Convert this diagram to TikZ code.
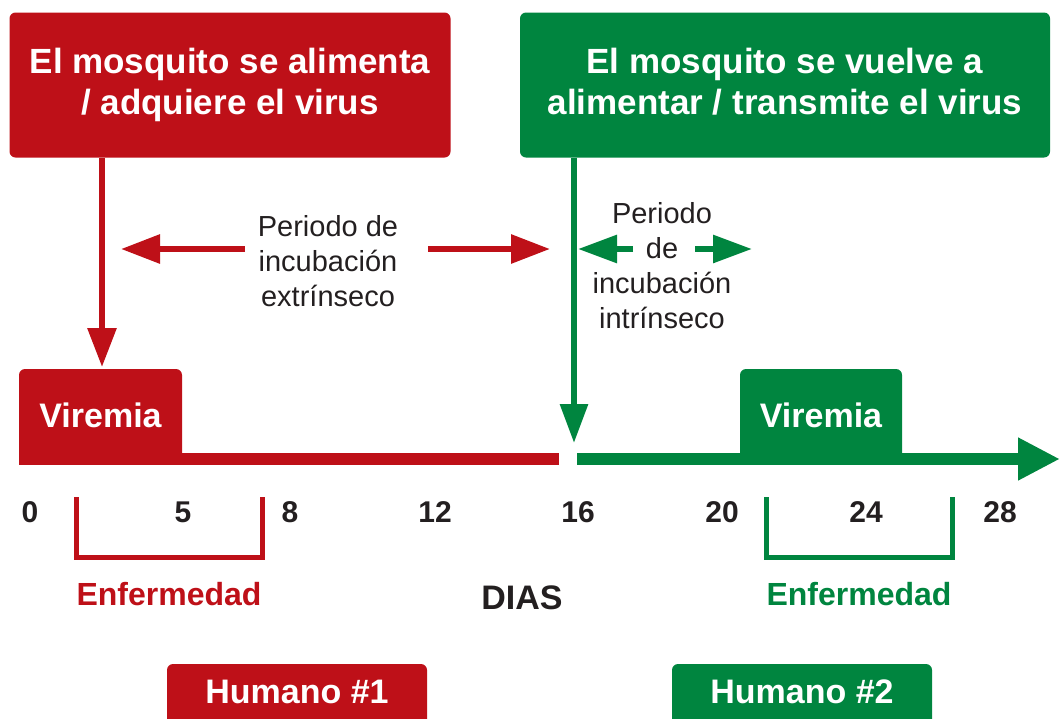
\documentclass[tikz,border=0pt]{standalone}
\usepackage{fontspec}
\setmainfont{Liberation Sans}
\usetikzlibrary{arrows.meta}
\definecolor{myred}{HTML}{BE1018}
\definecolor{mygreen}{HTML}{00853F}
\definecolor{txt}{HTML}{231F20}
\begin{document}
\begin{tikzpicture}[x=1pt,y=-1pt,
  box/.style={rounded corners=6pt, inner sep=0pt, text=white, align=center},
  bigfont/.style={font=\bfseries\fontsize{35}{41}\selectfont},
  midfont/.style={font=\bfseries\fontsize{34}{40}\selectfont},
  numfont/.style={font=\bfseries\fontsize{30}{36}\selectfont, text=txt},
  enffont/.style={font=\bfseries\fontsize{32}{38}\selectfont},
  plain/.style={font=\fontsize{29}{35}\selectfont, text=txt, align=center, inner sep=0pt},
  conn/.style={line width=6pt, -{Triangle[length=39pt,width=28pt]}},
  brack/.style={line width=5pt}
]
\clip (0,0) rectangle (1060,718);

% top boxes
\node[box, bigfont, fill=myred, minimum width=441pt, minimum height=145pt] (mq1) at (230,85)
  {El mosquito se alimenta\\/ adquiere el virus};
\node[box, bigfont, fill=mygreen, minimum width=530pt, minimum height=145pt] (mq2) at (785,85)
  {El mosquito se vuelve a\\alimentar / transmite el virus\vphantom{q}};

% viremia boxes
\node[box, midfont, fill=myred, minimum width=163pt, minimum height=92pt] (vir1) at (100.5,415) {Viremia};
\node[box, midfont, fill=mygreen, minimum width=162pt, minimum height=92pt] (vir2) at (821,415) {Viremia};

% timeline
\coordinate (r0) at (19,459);
\coordinate (r1) at (559,459);
\coordinate (g0) at (577,459);
\coordinate (g1) at (1060,459);
\draw[myred, line width=12pt] (r0) -- (r1);
\draw[mygreen, line width=12pt, -{Triangle[length=42pt,width=40pt]}] (g0) -- (g1);

% vertical arrows
\coordinate (t1) at (102,367);
\coordinate (t2) at (574,443);
\draw[conn, myred] (t1 |- mq1.south) -- (t1);
\draw[conn, mygreen, -{Triangle[length=39pt,width=27pt]}] (t2 |- mq2.south) -- (t2);

% incubation labels
\node[plain] (ext) at (328,261) {Periodo de\\incubación\\extrínseco};
\node[plain] (int) at (662,265.5) {Periodo\\de\\incubación\\intrínseco};

\coordinate (el0) at (245,249);
\coordinate (el1) at (121,249);
\coordinate (er0) at (428,249);
\coordinate (er1) at (550,249);
\draw[conn, myred] (el0) -- (el1);
\draw[conn, myred] (er0) -- (er1);

\coordinate (il0) at (633,249);
\coordinate (il1) at (578,249);
\coordinate (ir0) at (695,249);
\coordinate (ir1) at (752,249);
\draw[conn, mygreen, -{Triangle[length=39pt,width=27pt]}] (il0) -- (il1);
\draw[conn, mygreen, -{Triangle[length=39pt,width=27pt]}] (ir0) -- (ir1);

% tick labels
\node[numfont] (n0) at (30,512) {0};
\node[numfont] (n5) at (183,512) {5};
\node[numfont] (n8) at (290,512) {8};
\node[numfont] (n12) at (435,512) {12};
\node[numfont] (n16) at (578,512) {16};
\node[numfont] (n20) at (722,512) {20};
\node[numfont] (n24) at (866,512) {24};
\node[numfont] (n28) at (1000,512) {28};

% brackets
\draw[brack, myred] (76,497) -- (76,557) -- (262,557) -- (262,497);
\draw[brack, mygreen] (766,497) -- (766,557) -- (952,557) -- (952,497);

\node[enffont, text=myred] (enf1) at (169,594) {Enfermedad};
\node[enffont, text=mygreen] (enf2) at (859,594) {Enfermedad};
\node[midfont, text=txt] (dias) at (522,598) {DIAS};

% human boxes
\node[box, fill=myred, minimum width=260pt, minimum height=62pt,
  label={[midfont, text=white, yshift=3pt]center:Humano \#1}] (h1) at (297,695) {};
\node[box, fill=mygreen, minimum width=260pt, minimum height=62pt,
  label={[midfont, text=white, yshift=3pt]center:Humano \#2}] (h2) at (802,695) {};
\end{tikzpicture}
\end{document}
